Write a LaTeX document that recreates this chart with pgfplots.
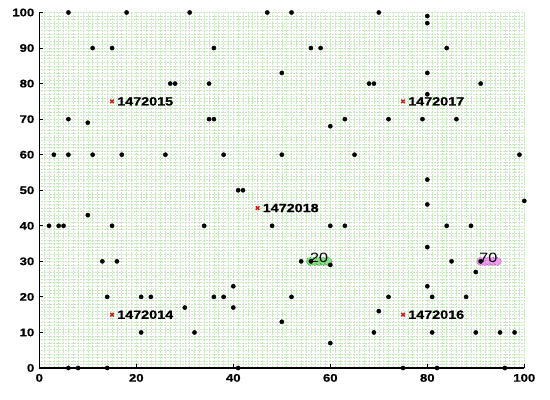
\documentclass[border=0pt]{standalone}
\usepackage{pgfplots}
\pgfplotsset{compat=1.18}
\usepackage{fontspec}
\setmainfont{Liberation Sans}[FakeStretch=1.2]
\newfontfamily\bfsans{Liberation Sans Bold}[FakeStretch=1.2, FakeBold=0.6]
\definecolor{gridg}{RGB}{200,232,192}
\definecolor{blobg}{RGB}{50,200,50}
\definecolor{blobm}{RGB}{215,70,215}
\definecolor{redx}{RGB}{205,30,30}

\pgfplotstableread{
x y
6 100
18 100
31 100
47 100
52 100
70 100
80 99
80 97
11 90
15 90
36 90
56 90
58 90
84 90
50 83
80 83
27 80
28 80
35 80
68 80
69 80
91 80
80 77
6 70
35 70
36 70
63 70
72 70
79 70
86 70
10 69
60 68
3 60
6 60
11 60
17 60
26 60
38 60
50 60
65 60
99 60
80 53
41 50
42 50
100 47
80 46
10 43
2 40
4 40
5 40
15 40
34 40
48 40
60 40
63 40
84 40
89 40
80 34
13 30
16 30
54 30
56 30
85 30
91 30
60 29
90 27
40 23
80 23
14 20
21 20
23 20
36 20
38 20
52 20
72 20
81 20
88 20
30 17
40 17
70 16
50 13
21 10
32 10
69 10
81 10
90 10
95 10
98 10
60 7
6 0
8 0
14 0
41 0
75 0
82 0
96 0
}\dots

\pgfplotstableread{
x y label
15 75 1472015
75 75 1472017
45 45 1472018
15 15 1472014
75 15 1472016
}\labs

\pgfplotstableread{
x y
55.9 30
56.8 30
57.7 30
58.6 30
59.5 30
}\gblob

\pgfplotstableread{
x y
91.0 30
91.85 30
92.7 30
93.55 30
94.4 30
}\mblob

\pgfplotstableread{
x y t
57.7 31.0 20
92.6 31.0 70
}\blobtxt

\begin{document}
\begin{tikzpicture}
\path[use as bounding box] (-39.3bp,-32bp) rectangle (510.7bp,368bp);
\begin{axis}[
  scale only axis, width=485bp, height=355.5bp,
  xmin=0, xmax=100, ymin=0, ymax=100,
  axis x line*=bottom, axis y line*=left,
  axis line style={line width=1.2bp, black},
  xtick={0,20,...,100}, ytick={0,10,...,100},
  minor xtick={0,1,...,100}, minor ytick={0,1,...,100},
  grid=both,
  major grid style={gridg, line width=0.55bp, dash pattern=on 0.6bp off 0.9bp},
  minor grid style={gridg, line width=0.55bp, dash pattern=on 0.6bp off 0.9bp},
  tick align=inside, major tick length=4bp, minor tick length=0pt,
  major tick style={black, line width=0.9bp},
  ticklabel style={font=\fontsize{11}{12}\bfsans},
  xticklabel style={yshift=-2.5bp},
  yticklabel style={xshift=-1.5bp},
  /pgf/number format/assume math mode=true,
  clip=false,
]
\addplot[only marks, mark=*, mark size=4bp,
  mark options={fill=blobg!55!white, draw=blobg!85!black, densely dotted, line width=0.8bp}]
  table[x=x,y=y] {\gblob};
\addplot[only marks, mark=*, mark size=4bp,
  mark options={fill=blobm!50!white, draw=blobm, densely dotted, line width=0.8bp}]
  table[x=x,y=y] {\mblob};
\addplot[only marks, mark=*, mark size=2.1bp, black] table[x=x,y=y] {\dots};
\addplot[only marks, mark=x, mark size=2.5bp, redx, line width=1.5bp,
  nodes near coords, point meta=explicit symbolic,
  nodes near coords style={anchor=west, inner sep=0pt, xshift=4.5bp, text=black,
    font=\fontsize{12}{13}\bfsans}]
  table[x=x,y=y,meta=label] {\labs};
\addplot[draw=none, mark=none,
  nodes near coords, point meta=explicit symbolic,
  nodes near coords style={anchor=center, inner sep=0pt, text=black,
    font=\fontsize{13.5}{14}\selectfont}]
  table[x=x,y=y,meta=t] {\blobtxt};
\end{axis}
\end{tikzpicture}
\end{document}
